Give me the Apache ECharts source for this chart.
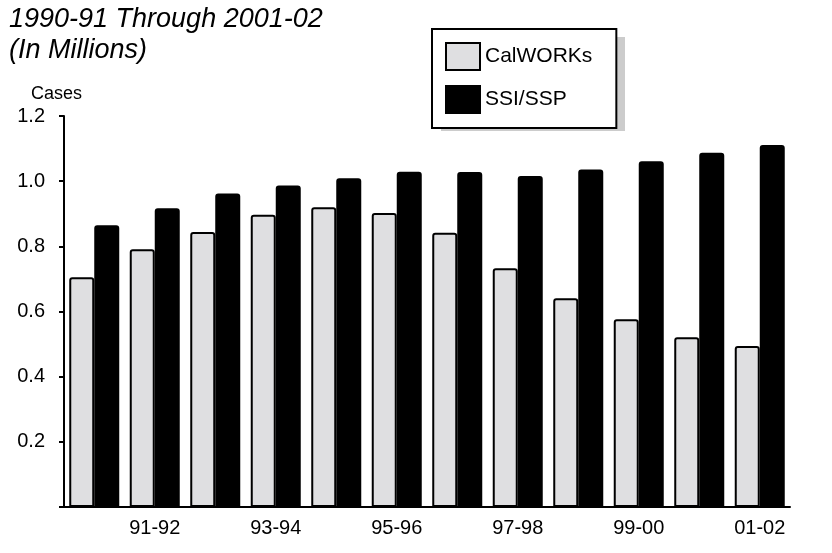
<!DOCTYPE html>
<html>
<head>
<meta charset="utf-8">
<script src="https://cdn.jsdelivr.net/npm/echarts@6/dist/echarts.min.js"></script>
<style>
  html, body { margin: 0; padding: 0; background: #fff; }
  #chart { width: 832px; height: 553px; }
</style>
</head>
<body>
<div id="chart"></div>
<script>
// Fiscal years 1990-91 through 2001-02
const years = ['90-91', '91-92', '92-93', '93-94', '94-95', '95-96',
               '96-97', '97-98', '98-99', '99-00', '00-01', '01-02'];
// Caseloads, in millions
const calworks = [0.705, 0.791, 0.844, 0.897, 0.920, 0.902, 0.842, 0.733, 0.641, 0.576, 0.521, 0.494];
const ssiSsp   = [0.865, 0.917, 0.962, 0.987, 1.009, 1.029, 1.028, 1.016, 1.036, 1.061, 1.087, 1.111];
const yTicks = { min: 0, max: 1.2, step: 0.2 };

const FONT = 'Liberation Sans, Arial, Helvetica, sans-serif';
const chart = echarts.init(document.getElementById('chart'));

chart.setOption({
  animation: false,
  backgroundColor: '#ffffff',
  title: [
    {
      text: '1990-91 Through 2001-02\n(In Millions)',
      left: 9, top: 4, padding: 0,
      textStyle: { fontFamily: FONT, fontSize: 27, fontStyle: 'italic',
                   fontWeight: 'normal', color: '#000', lineHeight: 31 }
    },
    {
      text: 'Cases',
      left: 31, top: 85, padding: 0,
      textStyle: { fontFamily: FONT, fontSize: 18, fontWeight: 'normal', color: '#000' }
    }
  ],
  // drop shadow behind the legend box
  graphic: [{
    type: 'rect', z: 1,
    shape: { x: 441, y: 37, width: 184, height: 94 },
    style: { fill: '#cccccc' }
  }],
  legend: {
    orient: 'vertical',
    left: 432, top: 29,
    padding: [13, 24, 14, 13],
    itemWidth: 34, itemHeight: 27, itemGap: 14,
    icon: 'rect',
    backgroundColor: '#ffffff',
    borderColor: '#000', borderWidth: 2,
    z: 5,
    textStyle: { fontFamily: FONT, fontSize: 21, color: '#000' },
    data: ['CalWORKs', 'SSI/SSP']
  },
  grid: { left: 64, right: 42, top: 116, bottom: 46, containLabel: false },
  xAxis: {
    type: 'category',
    data: years,
    axisLine: { lineStyle: { color: '#000', width: 2 } },
    axisTick: { show: false },
    axisLabel: {
      interval: (i) => i % 2 === 1,
      margin: 11,
      fontFamily: FONT, fontSize: 20, color: '#000'
    }
  },
  yAxis: {
    type: 'value',
    min: yTicks.min, max: yTicks.max, interval: yTicks.step,
    splitLine: { show: false },
    axisLine: { show: true, lineStyle: { color: '#000', width: 2 } },
    axisTick: { show: true, inside: false, length: 5, lineStyle: { color: '#000', width: 2 } },
    axisLabel: {
      margin: 19,
      fontFamily: FONT, fontSize: 20, color: '#000',
      formatter: (v) => v === 0 ? '' : v.toFixed(1)
    }
  },
  series: [
    {
      name: 'CalWORKs', type: 'bar', data: calworks,
      barWidth: 25, barGap: '0%',
      itemStyle: { color: '#dfdfe1', borderColor: '#000', borderWidth: 2, borderRadius: [2, 2, 0, 0] }
    },
    {
      name: 'SSI/SSP', type: 'bar', data: ssiSsp,
      barWidth: 25,
      itemStyle: { color: '#000', borderColor: '#000', borderWidth: 2, borderRadius: [2, 2, 0, 0] }
    }
  ]
});
</script>
</body>
</html>
